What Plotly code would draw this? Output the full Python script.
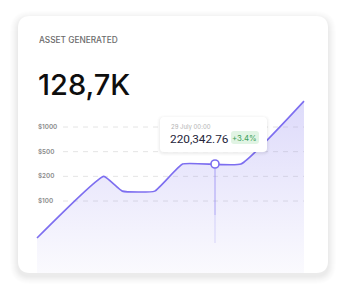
import plotly.graph_objects as go
import pandas as pd

W, H = 347, 294

# ---- data ----
dates = ["2024-07-21 00:00", "2024-07-24 00:00", "2024-07-24 20:00", "2024-07-26 07:00",
         "2024-07-27 13:00", "2024-07-30 04:00", "2024-08-02 00:00"]
levels = [-0.5, 2.0, 1.4, 1.4, 2.5, 2.5, 5.05]
tick_levels = [1, 2, 3, 4]
tick_labels = ["$100", "$200", "$500", "$1000"]
hover_date = "2024-07-29 00:00"
hover_level = 2.5
hover_value = "220,342.76"
hover_label = "29 July 00:00"
hover_change = "+3.4%"
title = "ASSET GENERATED"
headline = "128,7K"

PURPLE = "#7d6ef0"
FONT = "Inter"

# ---- axis geometry (pixels) ----
x_left_px, px_per_day = 37, 22.25
t0 = pd.Timestamp(dates[0])
xr = [t0 - pd.Timedelta(days=x_left_px / px_per_day),
      t0 + pd.Timedelta(days=(W - x_left_px) / px_per_day)]
px_per_level = 74 / 3
y_hi = 1 + 201 / px_per_level
y_lo = 1 - (H - 201) / px_per_level
base_level = 1 - (273 - 201) / px_per_level
drop_mid = 1 - (215 - 201) / px_per_level
drop_end = 1 - (243 - 201) / px_per_level
grid_start = t0 + pd.Timedelta(days=(63 - x_left_px) / px_per_day)


def X(px):
    return px / W


def Y(py):
    return 1 - py / H


def rr(x0, y0, x1, y1, r):
    return (f"M {X(x0+r)},{Y(y0)} L {X(x1-r)},{Y(y0)} Q {X(x1)},{Y(y0)} {X(x1)},{Y(y0+r)} "
            f"L {X(x1)},{Y(y1-r)} Q {X(x1)},{Y(y1)} {X(x1-r)},{Y(y1)} "
            f"L {X(x0+r)},{Y(y1)} Q {X(x0)},{Y(y1)} {X(x0)},{Y(y1-r)} "
            f"L {X(x0)},{Y(y0+r)} Q {X(x0)},{Y(y0)} {X(x0+r)},{Y(y0)} Z")


SMOOTH = 0.35
fig = go.Figure()

# baseline + gradient fill
fig.add_trace(go.Scatter(x=[dates[0], dates[-1]], y=[base_level, base_level], mode="lines",
                         line=dict(width=0), showlegend=False, hoverinfo="skip"))
fig.add_trace(go.Scatter(x=dates, y=levels, mode="lines", fill="tonexty",
                         line=dict(width=0, shape="spline", smoothing=SMOOTH),
                         fillgradient=dict(type="vertical",
                                           colorscale=[[0, "rgba(124,111,240,0.02)"],
                                                       [1, "rgba(124,111,240,0.24)"]]),
                         showlegend=False, hoverinfo="skip"))
# hatch overlay
fig.add_trace(go.Scatter(x=[dates[0], dates[-1]], y=[base_level, base_level], mode="lines",
                         line=dict(width=0), showlegend=False, hoverinfo="skip"))
fig.add_trace(go.Scatter(x=dates, y=levels, mode="lines", fill="tonexty",
                         line=dict(width=1.6, color=PURPLE, shape="spline", smoothing=SMOOTH),
                         fillcolor="rgba(0,0,0,0)",
                         fillpattern=dict(shape="|", fgcolor="rgba(124,111,240,0.06)",
                                          bgcolor="rgba(0,0,0,0)", size=2, solidity=0.4),
                         showlegend=False, hoverinfo="skip"))
# drop line (fading)
fig.add_trace(go.Scatter(x=[hover_date, hover_date], y=[drop_mid, drop_end], mode="lines",
                         line=dict(width=1, color="rgba(124,111,240,0.25)"),
                         showlegend=False, hoverinfo="skip"))
fig.add_trace(go.Scatter(x=[hover_date, hover_date], y=[hover_level, drop_mid], mode="lines",
                         line=dict(width=1, color="rgba(124,111,240,0.6)"),
                         showlegend=False, hoverinfo="skip"))
# hover marker
fig.add_trace(go.Scatter(x=[hover_date], y=[hover_level], mode="markers",
                         marker=dict(size=8, color="white", line=dict(color=PURPLE, width=1.6)),
                         showlegend=False, hoverinfo="skip"))

shapes = []
# card shadow
for i, a in enumerate([0.006, 0.007, 0.008, 0.009, 0.01, 0.011, 0.012, 0.013]):
    g = 8 - i
    shapes.append(dict(type="path", xref="paper", yref="paper", layer="below",
                       path=rr(18 - g, 16 - g + 3, 328 + g, 273 + g + 3, 12 + g),
                       fillcolor=f"rgba(0,0,0,{a})", line=dict(width=0)))
shapes.append(dict(type="path", xref="paper", yref="paper", layer="below",
                   path=rr(18, 16, 328, 273, 12), fillcolor="white", line=dict(width=0)))
# grid lines
for lv in tick_levels:
    shapes.append(dict(type="line", xref="x", yref="y", layer="below",
                       x0=grid_start, x1=dates[-1], y0=lv, y1=lv,
                       line=dict(color="#e4e4e4", width=1, dash="5px,5px")))
# tooltip shadow + box
for i, a in enumerate([0.012, 0.016, 0.022]):
    g = 3 - i
    shapes.append(dict(type="path", xref="paper", yref="paper", layer="above",
                       path=rr(160 - g, 117 - g + 1, 267 + g, 152 + g + 1, 4 + g),
                       fillcolor=f"rgba(0,0,0,{a})", line=dict(width=0)))
shapes.append(dict(type="path", xref="paper", yref="paper", layer="above",
                   path=rr(160, 117, 267, 152, 4), fillcolor="white", line=dict(width=0)))
shapes.append(dict(type="path", xref="paper", yref="paper", layer="above",
                   path=rr(231, 131, 259, 144, 3), fillcolor="#e1f4e4", line=dict(width=0)))

ann = []
ann.append(dict(text=title, xref="paper", yref="paper", x=X(36.5), y=Y(40), xanchor="left",
                yanchor="middle", showarrow=False,
                font=dict(family=FONT, size=8.3, color="#6b6b6b", weight=500)))
ann.append(dict(text=headline, xref="paper", yref="paper", x=X(35.5), y=Y(84), xanchor="left",
                yanchor="middle", showarrow=False,
                font=dict(family=FONT, size=29, color="#0e0e0e", weight=500)))
for lv, lab in zip(tick_levels, tick_labels):
    ann.append(dict(text=lab, xref="x", yref="y", x=dates[0], y=lv, xanchor="left",
                    yanchor="middle", showarrow=False, xshift=-1,
                    font=dict(family=FONT, size=6.3, color="#8a8a8a", weight=600)))
ann.append(dict(text=hover_label, xref="paper", yref="paper", x=X(168.5), y=Y(126.5),
                xanchor="left", yanchor="middle", showarrow=False,
                font=dict(family=FONT, size=6, color="#b3b3b3")))
ann.append(dict(text=hover_value, xref="paper", yref="paper", x=X(168), y=Y(138.5),
                xanchor="left", yanchor="middle", showarrow=False,
                font=dict(family="Roboto", size=11.8, color="#25253a")))
ann.append(dict(text=hover_change, xref="paper", yref="paper", x=X(245), y=Y(137.5),
                xanchor="center", yanchor="middle", showarrow=False,
                font=dict(family=FONT, size=7.8, color="#3a9f58")))

fig.update_layout(
    width=W, height=H, margin=dict(l=0, r=0, t=0, b=0), autosize=False,
    paper_bgcolor="white", plot_bgcolor="rgba(0,0,0,0)",
    xaxis=dict(range=xr, visible=False, showgrid=False, zeroline=False, domain=[0, 1]),
    yaxis=dict(range=[y_lo, y_hi], visible=False, showgrid=False, zeroline=False, domain=[0, 1]),
    shapes=shapes, annotations=ann, showlegend=False,
)

fig.write_html("out.html", config={"displayModeBar": False})
